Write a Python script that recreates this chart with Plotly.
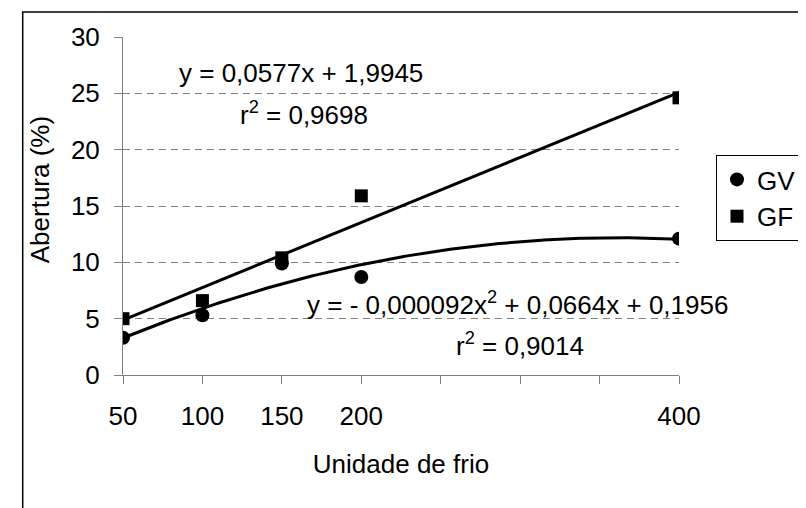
import numpy as np
import plotly.graph_objects as go

# Data
unidade_frio = [50, 100, 150, 200, 400]
gv_values = [3.3, 5.3, 9.9, 8.7, 12.1]
gf_values = [5.0, 6.6, 10.4, 15.9, 24.6]

# Trendline coefficients (as printed on the chart)
gf_slope, gf_intercept = 0.0577, 1.9945
gv_a, gv_b, gv_c = -0.000092, 0.0664, 0.1956

x_tickvals = [50, 100, 150, 200, 250, 300, 350, 400]
x_ticktext = ["50", "100", "150", "200", "", "", "", "400"]
y_tickvals = [0, 5, 10, 15, 20, 25, 30]

FONT = "Liberation Sans, Arial, sans-serif"
FS = 26

xs = np.linspace(50, 400, 300)
gf_fit = gf_slope * xs + gf_intercept
gv_fit = gv_a * xs**2 + gv_b * xs + gv_c

fig = go.Figure()
fig.add_trace(go.Scatter(x=xs, y=gv_fit, mode="lines", line=dict(color="black", width=3),
                         showlegend=False, hoverinfo="skip"))
fig.add_trace(go.Scatter(x=xs, y=gf_fit, mode="lines", line=dict(color="black", width=3),
                         showlegend=False, hoverinfo="skip"))
fig.add_trace(go.Scatter(x=unidade_frio, y=gv_values, mode="markers", name="GV",
                         marker=dict(symbol="circle", size=14, color="black")))
fig.add_trace(go.Scatter(x=unidade_frio, y=gf_values, mode="markers", name="GF",
                         marker=dict(symbol="square", size=13, color="black")))

annots = [
    dict(x=83.7, y=26.8, text="y = 0,0577x + 1,9945"),
    dict(x=122.3, y=23.25, text="r<sup>2</sup> = 0,9698"),
    dict(x=164.6, y=6.39, text="y = - 0,000092x<sup>2</sup> + 0,0664x + 0,1956"),
    dict(x=258.4, y=2.7, text="r<sup>2</sup> = 0,9014"),
]
for a in annots:
    fig.add_annotation(x=a["x"], y=a["y"], xref="x", yref="y", text=a["text"],
                       showarrow=False, xanchor="left", yanchor="middle",
                       font=dict(family=FONT, size=FS, color="black"))

W, H = 806, 508
L, R, T, B = 115, 806 - 686, 29, 508 - 367
PW, PH = W - L - R, H - T - B

# Y axis title as annotation
fig.add_annotation(x=(30 - L) / PW, y=(H - B - 182) / PH, xref="paper", yref="paper",
                   text="Abertura (%)", showarrow=False, textangle=-90,
                   xanchor="center", yanchor="middle",
                   font=dict(family=FONT, size=FS, color="black"))

fig.update_layout(
    width=W, height=H,
    margin=dict(l=L, r=R, t=T, b=B, pad=0),
    paper_bgcolor="white", plot_bgcolor="white",
    font=dict(family=FONT, size=FS, color="black"),
    showlegend=True,
    legend=dict(x=(724 - L) / PW, y=(367 - 147) / PH,
                xanchor="left", yanchor="top",
                bordercolor="black", borderwidth=1, bgcolor="white",
                font=dict(family=FONT, size=FS, color="black"),
                itemwidth=30),
    xaxis=dict(range=[50, 400], tickvals=x_tickvals, ticktext=x_ticktext,
               showgrid=False, zeroline=False, showline=True, linecolor="#808080", linewidth=1,
               ticks="outside", ticklen=8, tickcolor="#808080", tickwidth=1,
               ticklabelstandoff=10,
               tickfont=dict(family=FONT, size=FS, color="black"),
               title=dict(text="Unidade de frio", font=dict(family=FONT, size=FS, color="black"),
                          standoff=24)),
    yaxis=dict(range=[0, 30], tickvals=y_tickvals,
               showgrid=True, gridcolor="#808080", gridwidth=1, griddash="7px,5px",
               zeroline=False, showline=True, linecolor="#808080", linewidth=1,
               ticks="outside", ticklen=8, tickcolor="#808080", tickwidth=1,
               ticklabelstandoff=9,
               tickfont=dict(family=FONT, size=FS, color="black")),
)

# Outer chart border
fig.add_shape(type="rect", xref="paper", yref="paper",
              x0=(12 - L) / PW, x1=(W + 10 - L) / PW,
              y0=(H - B - (H + 10)) / PH, y1=(H - B - 4) / PH,
              line=dict(color="black", width=1.5), fillcolor="rgba(0,0,0,0)", layer="below")

fig.write_html("out.html")
